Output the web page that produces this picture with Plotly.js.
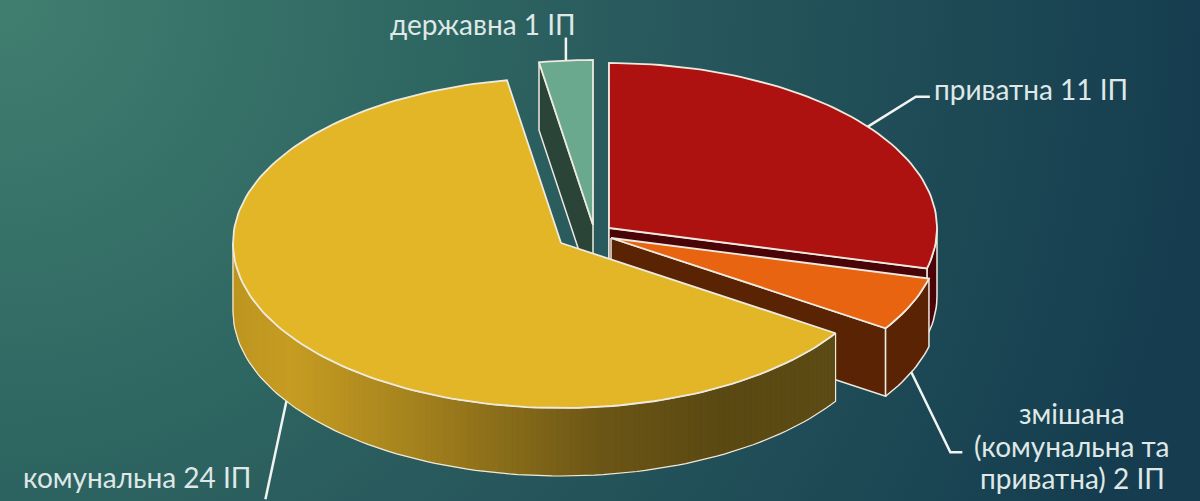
<!DOCTYPE html>
<html><head><meta charset="utf-8">
<script src="https://cdn.plot.ly/plotly-3.0.1.min.js"></script>
<style>
html,body{margin:0;padding:0;width:1200px;height:501px;overflow:hidden;
background:radial-gradient(circle 1300px at 0 0,#417f70 0,#2d6561 460px,#2a5c5e 600px,#153d4f 1200px);}
#chart{width:1200px;height:501px;}
</style></head><body><div id="chart"></div>
<script>
// --- data ---
const categories = ['приватна','змішана (комунальна та приватна)','комунальна','державна'];
const values = [11, 2, 24, 1];
const labels = [['приватна 11 ІП'],['змішана','(комунальна та','приватна) 2 ІП'],['комунальна 24 ІП'],['державна 1 ІП']];

// --- styling / projection ---
const topColors = ['#ae1210','#e86410','#e2b627','#6aa98e'];
const wallColors = ['#4a0408','#5a2404','#5c4a12','#2a4538'];
const apexes = [[609,228],[611,238],[561,243],[593,225]];
const RX = 328, RY = 165, DEPTH = 68;
const EDGE = '#eeeae0';
const yellowStops = [[234,[190,150,32]],[290,[198,156,34]],[400,[168,133,30]],[600,[108,86,22]],[720,[90,73,18]],[835,[92,75,20]]];
const labelPos = [[1031,89],[1072,413],[137,477],[483,24]];
const LINE_STEP = 32.5;
const leaderPaths = [[[48,-30],[62,-30]],[[39,80],[51,80]],[[-21,98]],[[0,-23]]];

const total = values.reduce((a,b)=>a+b,0);
const spans = []; let acc = 0;
values.forEach(v=>{ spans.push([acc/total*360, (acc+v)/total*360]); acc += v; });
const rad = d=>d*Math.PI/180;
const rim = (i,deg,drop=0)=>[apexes[i][0]+RX*Math.sin(rad(deg)), apexes[i][1]-RY*Math.cos(rad(deg))+drop];
function arc(i,a,b,drop=0){ const n=Math.max(2,Math.ceil(Math.abs(b-a)/1.5)); const p=[];
  for(let k=0;k<=n;k++) p.push(rim(i,a+(b-a)*k/n,drop)); return p; }
const traces=[];
function poly(pts,fill,lineColor,w){ const c=pts.concat([pts[0]]);
  traces.push({type:'scatter',mode:'lines',x:c.map(p=>p[0]),y:c.map(p=>p[1]),fill:'toself',fillcolor:fill,
    line:{color:lineColor,width:w},hoverinfo:'skip',showlegend:false}); }
function radialWall(i,deg,color){ const a=apexes[i], r=rim(i,deg);
  poly([a,r,[r[0],r[1]+DEPTH],[a[0],a[1]+DEPTH]],color,EDGE,1.5); }
function outerWall(i,a,b,color){ poly(arc(i,a,b).concat(arc(i,b,a,DEPTH)),color,EDGE,1.5); }
function topFace(i){ poly([apexes[i]].concat(arc(i,spans[i][0],spans[i][1])),topColors[i],EDGE,1.8); }
function yellowAt(x){ for(let k=1;k<yellowStops.length;k++){ const [x0,c0]=yellowStops[k-1],[x1,c1]=yellowStops[k];
    if(x<=x1){ const t=(x-x0)/(x1-x0); return 'rgb('+c0.map((v,j)=>Math.round(v+(c1[j]-v)*t)).join(',')+')'; } }
  return 'rgb('+yellowStops[yellowStops.length-1][1].join(',')+')'; }

// red
radialWall(0,spans[0][0],wallColors[0]);
outerWall(0,90,spans[0][1],wallColors[0]);
radialWall(0,spans[0][1],wallColors[0]);
topFace(0);
// green
radialWall(3,spans[3][0],wallColors[3]);
topFace(3);
// orange
radialWall(1,spans[1][1],wallColors[1]);
outerWall(1,spans[1][0],spans[1][1],wallColors[1]);
topFace(1);
// yellow: shaded outer wall in fine strips that overlap so no seams show
const yS=spans[2][0], yE=270, strips=130;
function wallStrip(a,b,col){ const p=[rim(2,a),rim(2,b),rim(2,b,DEPTH),rim(2,a,DEPTH)]; poly(p,col,col,0.5); }
for(let k=0;k<strips;k++){ const a=yS+(yE-yS)*k/strips, b=Math.min(yE,yS+(yE-yS)*(k+2)/strips);
  wallStrip(a,b,yellowAt(rim(2,yS+(yE-yS)*(k+0.5)/strips)[0])); }
const yo=arc(2,yS,yE).concat(arc(2,yE,yS,DEPTH)); yo.push(yo[0]);
traces.push({type:'scatter',mode:'lines',x:yo.map(p=>p[0]),y:yo.map(p=>p[1]),line:{color:EDGE,width:1.2},hoverinfo:'skip',showlegend:false});
topFace(2);

// leader lines start on each slice's rim at its middle angle
const shapes=[];
values.forEach((v,i)=>{ const mid=(spans[i][0]+spans[i][1])/2;
  const front = mid>90 && mid<270;
  const s=rim(i,mid,front?DEPTH:0);
  let d='M'+s[0]+','+s[1];
  leaderPaths[i].forEach(o=>{ d+=' L'+(s[0]+o[0])+','+(s[1]+o[1]); });
  shapes.push({type:'path',path:d,line:{color:'#f2f4f2',width:2.5},layer:'above'});
});
const annotations=[];
labels.forEach((lines,i)=>lines.forEach((t,j)=>annotations.push({x:labelPos[i][0],y:labelPos[i][1]+j*LINE_STEP,xref:'x',yref:'y',text:t,showarrow:false,
  align:'center',xanchor:'center',yanchor:'middle',font:{family:'Lato, "Noto Sans", sans-serif',size:28,color:'#dfe8e7'}})));

Plotly.newPlot('chart',traces,{
  width:1200,height:501,margin:{l:0,r:0,t:0,b:0},
  paper_bgcolor:'rgba(0,0,0,0)',plot_bgcolor:'rgba(0,0,0,0)',
  xaxis:{range:[0,1200],visible:false,fixedrange:true},
  yaxis:{range:[501,0],visible:false,fixedrange:true},
  showlegend:false,shapes,annotations,hovermode:false
},{displayModeBar:false,staticPlot:true});
</script></body></html>
